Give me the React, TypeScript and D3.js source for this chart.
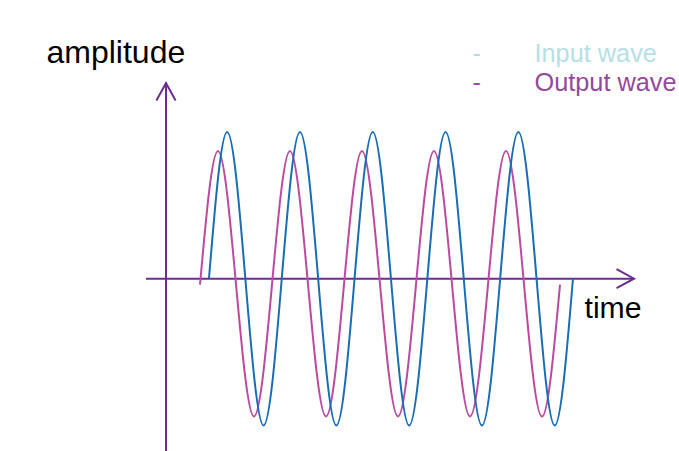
import React from "react";
import * as d3 from "d3";

// Key points (zero crossings and extremes)
const inputTimes = [59, 84, 109, 134, 159, 184, 209, 234, 259, 284, 309, 334, 359, 384, 409, 434, 459, 484, 509, 534, 559];
const inputValues = [0, 1, 0, -1, 0, 1, 0, -1, 0, 1, 0, -1, 0, 1, 0, -1, 0, 1, 0, -1, 0];

const outputTimes = [46.7, 71.4, 96.2, 120.9, 145.6, 170.3, 195.1, 219.8, 244.5, 269.2, 294.0, 318.7, 343.4, 368.1, 392.9, 417.6, 442.3, 467.0, 491.8, 516.5, 541.2];
const outputValues = [-0.04, 0.87, -0.04, -0.94, -0.04, 0.87, -0.04, -0.94, -0.04, 0.87, -0.04, -0.94, -0.04, 0.87, -0.04, -0.94, -0.04, 0.87, -0.04, -0.94, -0.04];

const legendLabels = ["Input wave", "Output wave"];
const axisLabels = { x: "time", y: "amplitude" };

const W = 679;
const H = 451;

export default function App() {
  const x = d3.scaleLinear().domain([0, 100]).range([166, 166 + 72.8]);
  const y = d3.scaleLinear().domain([-1, 1]).range([425.4, 132]);

  const line = d3
    .line<[number, number]>()
    .x((d) => x(d[0]))
    .y((d) => y(d[1]))
    .curve(d3.curveNatural);

  const inputPts: [number, number][] = inputTimes.map((t, i) => [t, inputValues[i]]);
  const outputPts: [number, number][] = outputTimes.map((t, i) => [t, outputValues[i]]);

  const axisColor = "#6b2d90";
  const x0 = x(0);
  const y0 = y(0);
  const xStart = x(-27.5);
  const xEnd = x(642.9);
  const yTop = y(1.334);
  const yBot = H;

  const font = "'Liberation Sans', Arial, sans-serif";

  return (
    <svg width={W} height={H} style={{ position: "absolute", left: 0, top: 0 }} fontFamily={font}>
      <rect width={W} height={H} fill="#ffffff" />
      {/* axes */}
      <line x1={xStart} y1={y0} x2={xEnd} y2={y0} stroke={axisColor} strokeWidth={2} />
      <polyline
        points={`${xEnd - 17.5},${y0 - 9.5} ${xEnd},${y0} ${xEnd - 17.5},${y0 + 9.5}`}
        fill="none"
        stroke={axisColor}
        strokeWidth={2}
      />
      <line x1={x0} y1={yBot} x2={x0} y2={yTop} stroke={axisColor} strokeWidth={2} />
      <polyline
        points={`${x0 - 9.6},${yTop + 17.5} ${x0},${yTop} ${x0 + 9.6},${yTop + 17.5}`}
        fill="none"
        stroke={axisColor}
        strokeWidth={2}
      />
      {/* waves */}
      <path d={line(outputPts) || ""} fill="none" stroke="#bb4aa0" strokeWidth={2} />
      <path d={line(inputPts) || ""} fill="none" stroke="#1a6db5" strokeWidth={2} />
      {/* labels */}
      <text x={46.5} y={63.3} fontSize={32} fill="#000">
        {axisLabels.y}
      </text>
      <text x={584.5} y={318.3} fontSize={30.2} fill="#000">
        {axisLabels.x}
      </text>
      {/* legend */}
      <text x={472.5} y={61.5} fontSize={25.3} fill="#b5dfe5">-</text>
      <text x={534.5} y={61.5} fontSize={25.3} fill="#b5dfe5">
        {legendLabels[0]}
      </text>
      <text x={472.5} y={91} fontSize={25.3} fill="#a04aa8">-</text>
      <text x={534.5} y={91} fontSize={25.3} fill="#944a9c">
        {legendLabels[1]}
      </text>
    </svg>
  );
}
